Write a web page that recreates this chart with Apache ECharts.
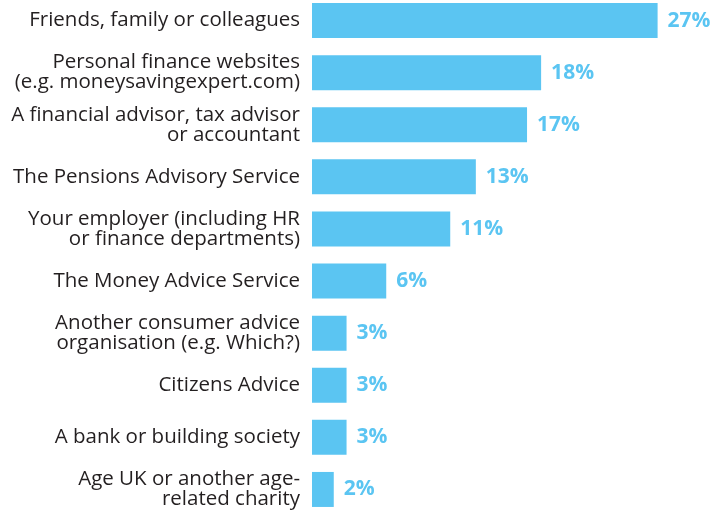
<!DOCTYPE html>
<html><head><meta charset="utf-8">
<script src="https://cdn.jsdelivr.net/npm/echarts@6/dist/echarts.min.js"></script>
<style>html,body{margin:0;padding:0;background:#fff;overflow:hidden}#c{position:absolute;left:0;top:-6px;width:712px;height:530px}</style>
</head><body><div id="c"></div>
<script>
const categories = [
  "Friends, family or colleagues",
  "Personal finance websites\n(e.g. moneysavingexpert.com)",
  "A financial advisor, tax advisor\nor accountant",
  "The Pensions Advisory Service",
  "Your employer (including HR\nor finance departments)",
  "The Money Advice Service",
  "Another consumer advice\norganisation (e.g. Which?)",
  "Citizens Advice",
  "A bank or building society",
  "Age UK or another age-\nrelated charity"
];
const values = [27, 17.9, 16.8, 12.8, 10.8, 5.8, 2.7, 2.7, 2.7, 1.7];
const labels = ["27%", "18%", "17%", "13%", "11%", "6%", "3%", "3%", "3%", "2%"];

const chart = echarts.init(document.getElementById('c'));
chart.setOption({
  animation: false,
  grid: { left: 312, width: 384, top: 0.5, height: 521, containLabel: false },
  xAxis: { type: 'value', min: 0, max: 30, show: false },
  yAxis: {
    type: 'category', data: categories, inverse: true,
    axisLine: { show: false }, axisTick: { show: false },
    axisLabel: { margin: 12, fontSize: 20.5, color: '#231f20', fontFamily: 'Open Sans', align: 'right', lineHeight: 20 }
  },
  series: [{
    type: 'bar', data: values, barWidth: 35,
    itemStyle: { color: '#5bc5f2' },
    label: {
      show: true, position: 'right', distance: 10,
      formatter: p => labels[p.dataIndex],
      color: '#5bc5f2', fontSize: 21, fontWeight: 'bold', fontFamily: 'Open Sans'
    }
  }]
});
</script></body></html>
